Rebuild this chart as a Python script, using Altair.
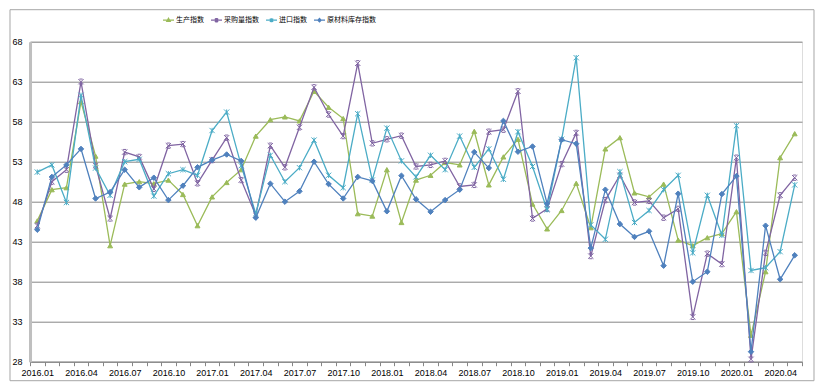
import json
import altair as alt
import pandas as pd

# ---------------- data ----------------
months = [f"{y}.{m:02d}" for y in range(2016, 2021) for m in range(1, 13)][:53]
tick_labels = [m for m in months if m[-2:] in ("01", "04", "07", "10")]

series_names = ["生产指数", "采购量指数", "进口指数", "原材料库存指数"]

production = [45.6, 49.5, 49.75, 60.5, 53.7, 42.5, 50.2, 50.5, 50.25, 50.7, 48.9, 45.0,
              48.6, 50.4, 52.0, 56.2, 58.25, 58.6, 58.1, 61.8, 59.8, 58.4, 46.5, 46.2,
              52.0, 45.4, 50.7, 51.3, 52.9, 52.6, 56.8, 50.1, 53.6, 55.8, 47.7, 44.6,
              46.9, 50.3, 44.75, 54.6, 56.0, 49.1, 48.6, 50.2, 43.2, 42.5, 43.5, 44.0,
              46.75, 31.3, 39.25, 53.5, 56.5]
purchase = [45.0, 50.5, 52.0, 63.0, 52.5, 45.9, 54.2, 53.6, 49.6, 55.0, 55.2, 50.3,
            53.2, 56.0, 50.7, 46.3, 55.0, 52.3, 57.3, 62.3, 58.9, 56.2, 65.3, 55.3,
            55.8, 56.25, 52.4, 52.6, 53.1, 49.9, 50.1, 56.75, 57.0, 61.8, 45.9, 47.1,
            52.7, 56.6, 41.2, 48.2, 51.3, 47.9, 48.1, 46.0, 47.1, 33.6, 41.5, 40.2,
            53.5, 28.3, 41.6, 48.8, 51.0]
imports = [51.7, 52.6, 47.9, 61.3, 52.2, 48.8, 53.0, 53.3, 48.7, 51.5, 52.0, 51.3,
           56.9, 59.2, 52.5, 46.5, 53.8, 50.5, 52.25, 55.7, 51.3, 49.75, 59.0, 50.7,
           57.2, 53.1, 51.1, 53.8, 52.0, 56.2, 52.3, 54.6, 50.8, 56.75, 52.4, 47.0,
           55.8, 66.0, 45.1, 43.3, 51.75, 45.4, 46.9, 49.5, 51.3, 41.6, 48.8, 43.8,
           57.5, 39.4, 39.75, 41.75, 50.1]
inventory = [44.5, 51.1, 52.6, 54.6, 48.4, 49.2, 52.0, 49.8, 51.0, 48.2, 50.0, 52.3,
             53.2, 53.9, 53.1, 46.0, 50.25, 48.0, 49.3, 53.0, 50.2, 48.4, 51.1, 50.6,
             46.8, 51.25, 48.3, 46.75, 48.2, 49.5, 54.2, 52.2, 58.1, 54.25, 54.9, 47.75,
             55.75, 55.25, 42.2, 49.5, 45.2, 43.6, 44.3, 40.0, 49.0, 38.0, 39.25, 48.95,
             51.2, 29.25, 45.0, 38.3, 41.3]

y_ticks = [28, 33, 38, 43, 48, 53, 58, 63, 68]

# ---------------- styling ----------------
colors = ["#9BBB59", "#8064A2", "#4BACC6", "#4F81BD"]
marker_shapes = [
    "triangle-up",
    "M-1,-1L1,1M-1,1L1,-1M-0.6,-1H0.6M-0.6,1H0.6",
    "M-1,-1L1,1M-1,1L1,-1M0,-1V1",
    "diamond",
]
marker_sizes = [24, 28, 28, 30]
legend_shapes = [
    "M-1,0H1M0,-0.36L0.32,0.22H-0.32Z",
    "M-1,0H1M-0.3,-0.3L0.3,0.3M-0.3,0.3L0.3,-0.3M-0.2,-0.3H0.2M-0.2,0.3H0.2",
    "M-1,0H1M-0.3,-0.3L0.3,0.3M-0.3,0.3L0.3,-0.3M0,-0.36V0.36",
    "M-1,0H1M0,-0.32L0.3,0L0,0.32L-0.3,0Z",
]

values_by_series = [production, purchase, imports, inventory]
rows = []
for name, vals in zip(series_names, values_by_series):
    for m, v in zip(months, vals):
        rows.append({"month": m, "series": name, "value": v})
df = pd.DataFrame(rows)

W, H = 772, 320
NUM_FONT = "Liberation Sans"
CJK_FONT = "Noto Sans CJK SC"

label_expr = f"indexof({json.dumps(tick_labels)}, datum.label) >= 0 ? datum.label : ''"

x_enc = alt.X(
    "month:N",
    sort=months,
    scale=alt.Scale(type="band", domain=months, paddingInner=0, paddingOuter=0),
    axis=alt.Axis(
        title=None, labelAngle=0, labelExpr=label_expr, labelOverlap=False,
        tickBand="extent", tickSize=4, tickColor="#868686", tickWidth=1,
        domainColor="#868686", domainWidth=1, grid=False,
        labelFont=NUM_FONT, labelFontSize=9, labelColor="#000000", labelPadding=3,
    ),
)
y_enc = alt.Y(
    "value:Q",
    scale=alt.Scale(domain=[28, 68], nice=False, zero=False),
    axis=alt.Axis(
        title=None, values=y_ticks, grid=True, gridColor="#868686", gridWidth=1,
        ticks=False, domainColor="#BFBFBF", domainWidth=3,
        labelFont=NUM_FONT, labelFontSize=9, labelColor="#000000", labelPadding=8,
    ),
)

series_layers = []
for name, col, shp, sz in zip(series_names, colors, marker_shapes, marker_sizes):
    base = alt.Chart(df).transform_filter(alt.datum.series == name)
    series_layers.append(base.mark_line(strokeWidth=1.3, color=col).encode(x=x_enc, y=y_enc))
    series_layers.append(
        base.mark_point(
            shape=shp, filled=True, fill=col, stroke=col, strokeWidth=1, size=sz, opacity=1
        ).encode(x=x_enc, y=y_enc)
    )

leg = alt.Legend(
    title=None, orient="none", legendX=132, legendY=-28, direction="horizontal",
    labelFont=CJK_FONT, labelFontSize=7, labelColor="#000000", labelOffset=1,
    symbolSize=121, symbolStrokeWidth=1.2, columnPadding=4, padding=0,
    symbolOpacity=1, gridAlign="none",
)
legend_layer = alt.Chart(df).mark_point(
    filled=True, strokeWidth=1.2, size=0
).encode(
    x=x_enc, y=y_enc,
    fill=alt.Fill("series:N", scale=alt.Scale(domain=series_names, range=colors), legend=leg),
    stroke=alt.Stroke("series:N", scale=alt.Scale(domain=series_names, range=colors), legend=leg),
    shape=alt.Shape("series:N", scale=alt.Scale(domain=series_names, range=legend_shapes), legend=leg),
)

border = alt.Chart(pd.DataFrame({"a": [0]})).mark_rect(
    filled=False, stroke="#A6A6A6", strokeWidth=1
).encode(
    x=alt.value(-20), x2=alt.value(W + 12), y=alt.value(-32), y2=alt.value(H + 19)
)

chart = alt.layer(border, *series_layers, legend_layer).properties(
    width=W, height=H,
    autosize=alt.AutoSizeParams(type="none"),
    padding={"left": 22, "top": 33.7, "right": 14, "bottom": 21},
).configure_view(stroke=None).configure(background="#FFFFFF")

chart.save("out.html", embed_options={"renderer": "svg", "actions": False})
